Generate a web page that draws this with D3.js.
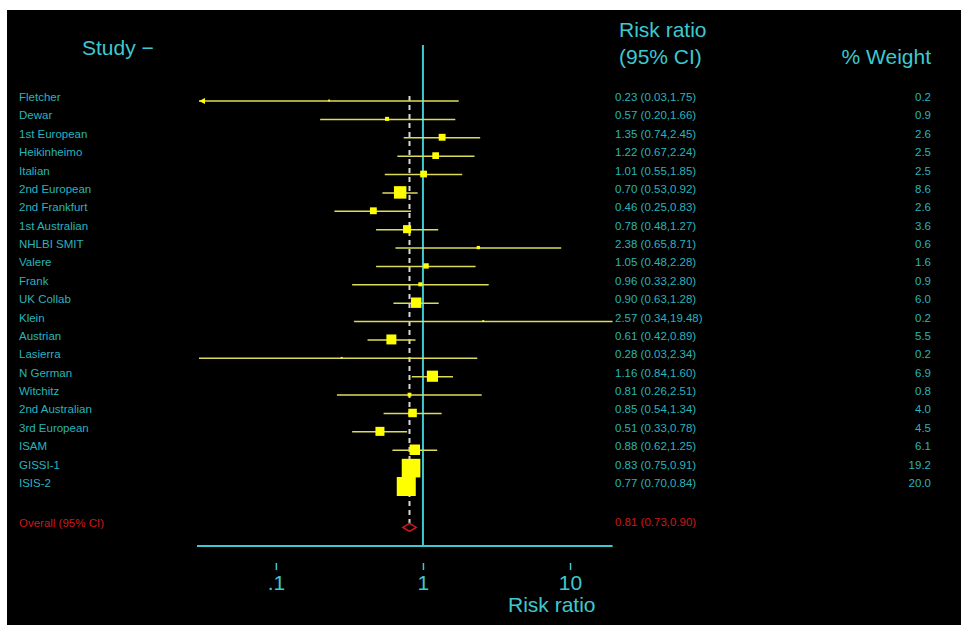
<!DOCTYPE html>
<html>
<head>
<meta charset="utf-8">
<script src="https://cdn.jsdelivr.net/npm/d3@7/dist/d3.min.js"></script>
<style>
  html, body { margin: 0; padding: 0; background: #ffffff; }
  svg { display: block; }
  text { font-family: "Liberation Sans", Arial, sans-serif; }
</style>
</head>
<body>
<svg id="chart" width="961" height="625"></svg>
<script>
// ---------- data ----------
const studies = ["Fletcher","Dewar","1st European","Heikinheimo","Italian","2nd European","2nd Frankfurt","1st Australian","NHLBI SMIT","Valere","Frank","UK Collab","Klein","Austrian","Lasierra","N German","Witchitz","2nd Australian","3rd European","ISAM","GISSI-1","ISIS-2"];
const riskRatio = [0.23,0.57,1.35,1.22,1.01,0.70,0.46,0.78,2.38,1.05,0.96,0.90,2.57,0.61,0.28,1.16,0.81,0.85,0.51,0.88,0.83,0.77];
const lowerCI  = [0.029,0.20,0.74,0.67,0.55,0.53,0.25,0.48,0.65,0.48,0.33,0.63,0.34,0.42,0.03,0.84,0.26,0.54,0.33,0.62,0.75,0.70];
const upperCI  = [1.75,1.66,2.45,2.24,1.85,0.92,0.83,1.27,8.71,2.28,2.80,1.28,19.48,0.89,2.34,1.60,2.51,1.34,0.78,1.25,0.91,0.84];
const ciText = ["0.23 (0.03,1.75)","0.57 (0.20,1.66)","1.35 (0.74,2.45)","1.22 (0.67,2.24)","1.01 (0.55,1.85)","0.70 (0.53,0.92)","0.46 (0.25,0.83)","0.78 (0.48,1.27)","2.38 (0.65,8.71)","1.05 (0.48,2.28)","0.96 (0.33,2.80)","0.90 (0.63,1.28)","2.57 (0.34,19.48)","0.61 (0.42,0.89)","0.28 (0.03,2.34)","1.16 (0.84,1.60)","0.81 (0.26,2.51)","0.85 (0.54,1.34)","0.51 (0.33,0.78)","0.88 (0.62,1.25)","0.83 (0.75,0.91)","0.77 (0.70,0.84)"];
const weightPct = [0.2,0.9,2.6,2.5,2.5,8.6,2.6,3.6,0.6,1.6,0.9,6.0,0.2,5.5,0.2,6.9,0.8,4.0,4.5,6.1,19.2,20.0];
const overallLabel = "Overall (95% CI)";
const overallRR = 0.81, overallLower = 0.73, overallUpper = 0.90;
const overallText = "0.81 (0.73,0.90)";
const tickValues = [0.1, 1, 10];
const tickLabels = [".1", "1", "10"];
const axisDomain = [0.03, 19.48];

// ---------- layout ----------
const svg = d3.select("#chart");
const cyanBig = "#3ec8cf", cyanSmall = "#28b4bc";
const yellow = "#ffff00", ciColor = "#dcdc5a", red = "#d01818";

svg.append("rect").attr("x", 7).attr("y", 10).attr("width", 954).attr("height", 615).attr("fill", "#000");

const x = d3.scaleLog().domain(axisDomain).range([199, 612.6]);
const y = d3.scaleLinear().domain([0, studies.length - 1]).range([101, 487]);
const yOverall = y(23.2);
const axisY = 546;
const sq = d3.scaleSqrt().domain([0, 20]).range([0, 19]);

// headers
svg.append("text").attr("x", 82).attr("y", 55).attr("fill", cyanBig).attr("font-size", 21).text("Study \u2212");
svg.append("text").attr("x", 619).attr("y", 37).attr("fill", cyanBig).attr("font-size", 21).text("Risk ratio");
svg.append("text").attr("x", 619).attr("y", 64).attr("fill", cyanBig).attr("font-size", 21).text("(95% CI)");
svg.append("text").attr("x", 931).attr("y", 64).attr("text-anchor", "end").attr("fill", cyanBig).attr("font-size", 21).text("% Weight");

// vertical null line at 1
svg.append("line").attr("x1", x(1)).attr("x2", x(1)).attr("y1", 45).attr("y2", axisY)
  .attr("stroke", cyanBig).attr("stroke-width", 2);

// overall dashed line
svg.append("line").attr("x1", x(overallRR)).attr("x2", x(overallRR)).attr("y1", 96).attr("y2", yOverall)
  .attr("stroke", "#d8d8d8").attr("stroke-width", 2).attr("stroke-dasharray", "5,4");

const rows = studies.map((s, i) => ({ s, rr: riskRatio[i], lo: lowerCI[i], hi: upperCI[i], t: ciText[i], w: weightPct[i], i }));

const g = svg.append("g");
// CI lines
g.selectAll("line.ci").data(rows).join("line").attr("class", "ci")
  .attr("x1", d => x(Math.max(d.lo, axisDomain[0])))
  .attr("x2", d => x(Math.min(d.hi, axisDomain[1])))
  .attr("y1", d => y(d.i)).attr("y2", d => y(d.i))
  .attr("stroke", ciColor).attr("stroke-width", 1.5);
// arrows for clipped lower bounds
g.selectAll("path.arrow").data(rows.filter(d => d.lo < axisDomain[0])).join("path").attr("class", "arrow")
  .attr("d", d => { const x0 = x(axisDomain[0]), yy = y(d.i); return `M${x0},${yy} L${x0 + 6},${yy - 3} L${x0 + 6},${yy + 3} Z`; })
  .attr("fill", yellow);
// squares
g.selectAll("rect.sq").data(rows).join("rect").attr("class", "sq")
  .attr("x", d => x(d.rr) - sq(d.w) / 2)
  .attr("y", d => y(d.i) - sq(d.w) / 2 - 0.5)
  .attr("width", d => sq(d.w)).attr("height", d => sq(d.w))
  .attr("fill", yellow);

// left labels
svg.selectAll("text.study").data(rows).join("text").attr("class", "study")
  .attr("x", 19).attr("y", d => y(d.i)).attr("fill", cyanSmall).attr("font-size", 11.5)
  .text(d => d.s);
// CI text
svg.selectAll("text.ci").data(rows).join("text").attr("class", "ci")
  .attr("x", 615).attr("y", d => y(d.i)).attr("fill", cyanSmall).attr("font-size", 11.5)
  .text(d => d.t);
// weight
svg.selectAll("text.w").data(rows).join("text").attr("class", "w")
  .attr("x", 931).attr("y", d => y(d.i)).attr("text-anchor", "end").attr("fill", cyanSmall).attr("font-size", 11.5)
  .text(d => d.w.toFixed(1));

// overall
svg.append("text").attr("x", 19).attr("y", yOverall).attr("fill", red).attr("font-size", 11.5).text(overallLabel);
svg.append("text").attr("x", 615).attr("y", yOverall - 1).attr("fill", red).attr("font-size", 11.5).text(overallText);
svg.append("path")
  .attr("d", `M${x(overallLower)},${yOverall} L${x(overallRR)},${yOverall - 4} L${x(overallUpper)},${yOverall} L${x(overallRR)},${yOverall + 4} Z`)
  .attr("fill", "none").attr("stroke", red).attr("stroke-width", 1.5);

// axis line
svg.append("line").attr("x1", 197).attr("x2", x(axisDomain[1])).attr("y1", axisY).attr("y2", axisY)
  .attr("stroke", cyanBig).attr("stroke-width", 2);

// ticks and labels
const axis = d3.axisBottom(x).tickValues(tickValues).tickFormat((d, i) => tickLabels[i]).tickSize(7).tickPadding(5);
const ag = svg.append("g").attr("transform", `translate(0,563)`).call(axis);
ag.select(".domain").remove();
ag.selectAll(".tick line").attr("stroke", cyanBig).attr("stroke-width", 1.5);
ag.selectAll(".tick text").attr("fill", cyanBig).attr("font-size", 21)
  .attr("font-family", "'Liberation Sans', Arial, sans-serif");

svg.append("text").attr("x", 508).attr("y", 612).attr("fill", cyanBig).attr("font-size", 21).text("Risk ratio");
</script>
</body>
</html>
